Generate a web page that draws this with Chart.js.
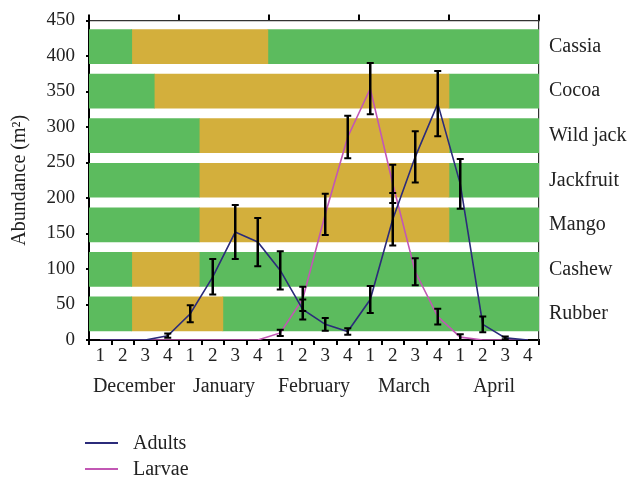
<!DOCTYPE html>
<html>
<head>
<meta charset="utf-8">
<script src="https://cdn.jsdelivr.net/npm/chart.js@4.4.1/dist/chart.umd.min.js"></script>
<style>
  html, body { margin: 0; padding: 0; background: #fff; }
  #wrap { position: relative; width: 632px; height: 479px; }
  canvas { position: absolute; left: 0; top: 0; }
  .lg { position: absolute; left: 85px; font: 20px 'Liberation Serif', serif; color: #222; }
  .lg .sw { position: absolute; left: 0; width: 33px; height: 2px; }
  .lg .tx { position: absolute; left: 48px; white-space: nowrap; line-height: 20px; }
</style>
</head>
<body>
<div id="wrap">
  <canvas id="c" width="632" height="479"></canvas>
  <div class="lg" style="top:432px"><span class="sw" style="top:10px;background:#2b2b7a"></span><span class="tx" style="top:0">Adults</span></div>
  <div class="lg" style="top:458px"><span class="sw" style="top:10px;background:#c257b4"></span><span class="tx" style="top:0">Larvae</span></div>
</div>
<script>
// ---- data ----
const weekLabels = ['1','2','3','4','1','2','3','4','1','2','3','4','1','2','3','4','1','2','3','4'];
const months = ['December','January','February','March','April'];
const species = ['Cassia','Cocoa','Wild jack','Jackfruit','Mango','Cashew','Rubber'];
// flowering (gold) period per species, in weeks from start of December
const goldStart = [1.9, 2.9, 4.9, 4.9, 4.9, 1.9, 1.9];
const goldEnd   = [7.95, 16, 16, 16, 16, 4.9, 5.95];
const adults    = [0, 0, 0, 6, 37, 89, 152, 138, 98, 43, 22, 12, 57, 170, 258, 333, 220, 22, 3, 0];
const adultsErr = [0, 0, 0, 3, 12, 25, 38, 34, 27, 14, 9, 4.5, 19, 37, 36, 46, 35, 11, 2, 0];
const larvae    = [0, 0, 0, 0, 0, 0, 0, 0, 10, 58, 177, 286, 354, 220, 96, 33, 4, 0, 0, 0];
const larvaeErr = [0, 0, 0, 0, 0, 0, 0, 0, 4.5, 17, 29, 30, 36, 27, 19, 11, 4, 0, 0, 0];

const nWeeks = weekLabels.length;
const GREEN = '#5cbb5e';
const GOLD = '#d3af3c';
const NUMFONT = { family: "'Liberation Serif', serif", size: 19, lineHeight: 1 };
const WORDFONT = { family: "'Liberation Serif', serif", size: 20, lineHeight: 1 };
const TXT = '#222';

const seg = (a, b) => species.map((s, i) => ({ x: [a[i], b[i]], y: i }));
const zeros = species.map(() => 0);
const fulls = species.map(() => nWeeks);

const errorBars = {
  id: 'errorBars',
  afterDatasetsDraw(chart) {
    const ctx = chart.ctx, xs = chart.scales.x, ys = chart.scales.y;
    ctx.save();
    ctx.strokeStyle = '#000';
    [[adults, adultsErr], [larvae, larvaeErr]].forEach(([vals, errs]) => {
      vals.forEach((v, i) => {
        const e = errs[i];
        if (!e) return;
        const x = xs.getPixelForValue(i);
        const yt = ys.getPixelForValue(v + e);
        const yb = ys.getPixelForValue(Math.max(0, v - e));
        ctx.lineWidth = 2.5;
        ctx.beginPath(); ctx.moveTo(x, yt); ctx.lineTo(x, yb); ctx.stroke();
        ctx.lineWidth = 2;
        ctx.beginPath();
        ctx.moveTo(x - 3.5, yt); ctx.lineTo(x + 3.5, yt);
        ctx.moveTo(x - 3.5, yb); ctx.lineTo(x + 3.5, yb);
        ctx.stroke();
      });
    });
    ctx.restore();
  }
};

new Chart(document.getElementById('c'), {
  type: 'bar',
  data: {
    labels: weekLabels,
    datasets: [
      { type: 'line', label: 'Adults', data: adults, xAxisID: 'x', yAxisID: 'y',
        borderColor: '#2b2b7a', borderWidth: 1.6, pointRadius: 0, tension: 0, order: 0 },
      { type: 'line', label: 'Larvae', data: larvae, xAxisID: 'x', yAxisID: 'y',
        borderColor: '#c257b4', borderWidth: 1.6, pointRadius: 0, tension: 0, order: 0 },
      { type: 'bar', label: 'before', indexAxis: 'y', xAxisID: 'xb', yAxisID: 'yc',
        data: seg(zeros, goldStart), backgroundColor: GREEN, borderWidth: 0,
        barThickness: 34, grouped: false, order: 1 },
      { type: 'bar', label: 'flowering', indexAxis: 'y', xAxisID: 'xb', yAxisID: 'yc',
        data: seg(goldStart, goldEnd), backgroundColor: GOLD, borderWidth: 0,
        barThickness: 34, grouped: false, order: 1 },
      { type: 'bar', label: 'after', indexAxis: 'y', xAxisID: 'xb', yAxisID: 'yc',
        data: seg(goldEnd, fulls), backgroundColor: GREEN, borderWidth: 0,
        barThickness: 34, grouped: false, order: 1 }
    ]
  },
  options: {
    responsive: false,
    animation: false,
    layout: { padding: 0 },
    plugins: { legend: { display: false }, tooltip: { enabled: false } },
    scales: {
      x: {
        type: 'category', position: 'bottom', labels: weekLabels, offset: true, weight: 0,
        grid: { offset: true, drawOnChartArea: false, tickLength: 5, color: '#000', lineWidth: 2 },
        border: { color: '#000', width: 2 },
        ticks: { font: NUMFONT, color: TXT, padding: 2, autoSkip: false, maxRotation: 0 },
        afterFit: s => { s.height = 30; }
      },
      xm: {
        type: 'category', position: 'bottom', labels: months, offset: true, weight: 1,
        grid: { display: false, drawTicks: false }, border: { display: false },
        ticks: { font: WORDFONT, color: TXT, padding: 7, autoSkip: false, maxRotation: 0 },
        afterFit: s => { s.height = 109; }
      },
      xt: {
        type: 'category', position: 'top', labels: months, offset: true,
        grid: { offset: true, drawOnChartArea: false, tickLength: 6, color: '#000', lineWidth: 2 },
        border: { color: '#333', width: 1.2 },
        ticks: { display: false },
        afterFit: s => { s.height = 19.6; }
      },
      xb: {
        type: 'linear', position: 'bottom', display: false, offset: false,
        grid: { offset: false }, min: 0, max: nWeeks
      },
      y: {
        type: 'linear', position: 'left', min: 0, max: 450,
        grid: { drawOnChartArea: false, tickLength: 3, color: '#000', lineWidth: 2 },
        border: { color: '#000', width: 2 },
        ticks: { stepSize: 50, font: NUMFONT, color: TXT, padding: 11 },
        title: { display: true, text: 'Abundance (m²)', font: WORDFONT, color: TXT, padding: { top: 10, bottom: 0 } },
        afterFit: s => { s.width = 89; }
      },
      yc: {
        type: 'linear', position: 'right', reverse: true, offset: false,
        min: -0.586, max: species.length - 1 + 0.586,
        grid: { display: false, drawTicks: false, offset: false },
        border: { color: '#333', width: 1.2 },
        afterBuildTicks: s => { s.ticks = species.map((n, i) => ({ value: i })); },
        ticks: { font: WORDFONT, color: TXT, padding: 10, callback: v => species[v] },
        afterFit: s => { s.width = 93; }
      }
    }
  },
  plugins: [errorBars]
});
</script>
</body>
</html>
